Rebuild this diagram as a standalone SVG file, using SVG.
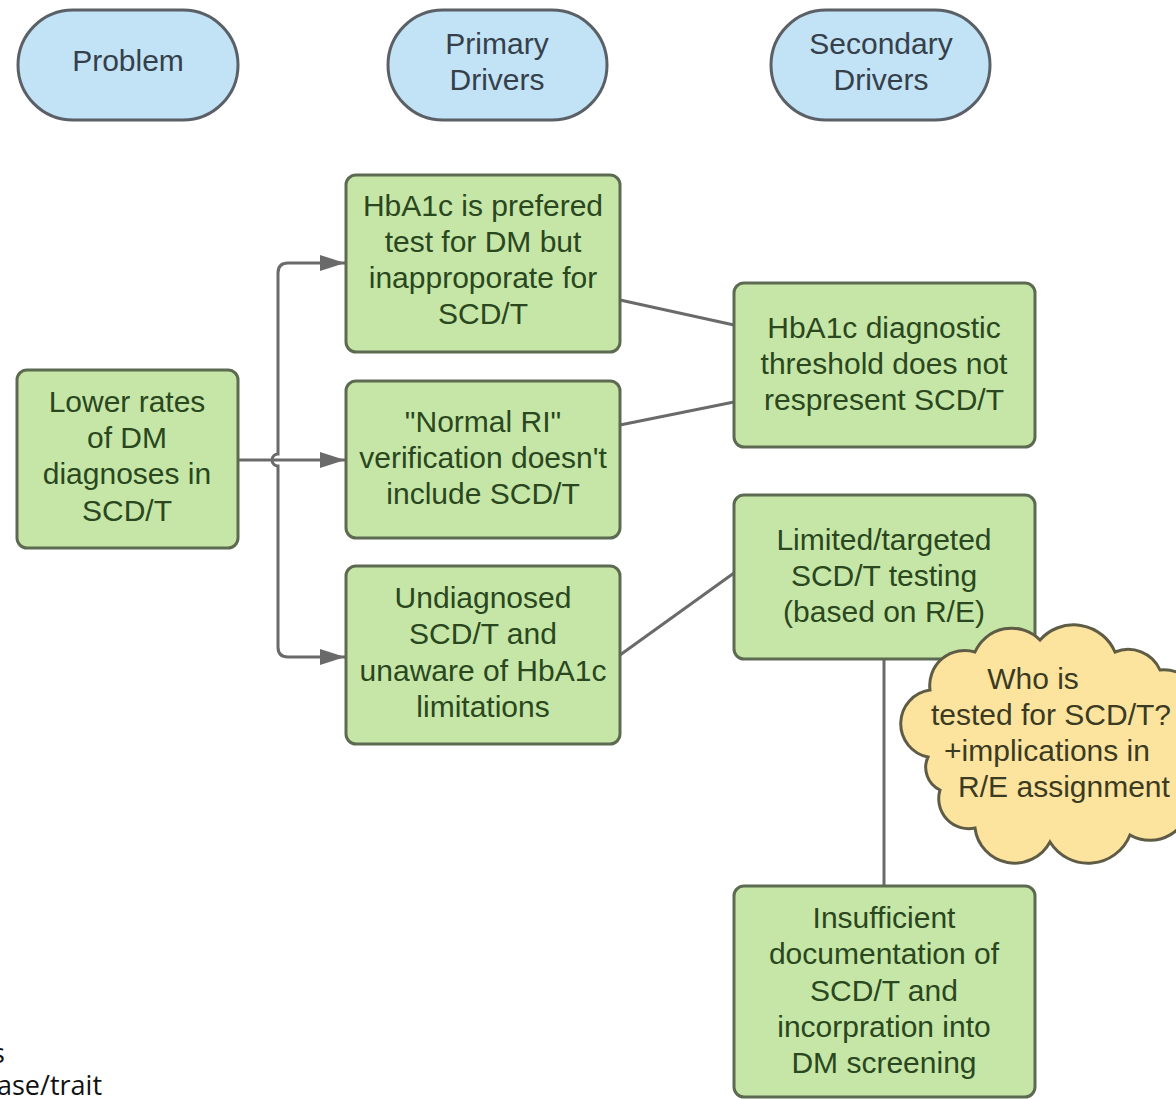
<svg xmlns="http://www.w3.org/2000/svg" width="1176" height="1099" viewBox="0 0 1176 1099">
<style>
.pill{fill:#c2e2f5;stroke:#5a6066;stroke-width:3}
.box{fill:#c5e6a6;stroke:#5c6a52;stroke-width:3}
.cloud{fill:#fde49e;stroke:#5f5c45;stroke-width:3}
.pt{font-family:"Liberation Sans",Arial,sans-serif;font-size:30px;fill:#35404a;text-anchor:middle}
.bt{font-family:"Liberation Sans",Arial,sans-serif;font-size:30px;fill:#2a4720;text-anchor:middle}
.ct{font-family:"Liberation Sans",Arial,sans-serif;font-size:30px;fill:#3b3a22;text-anchor:middle}
.conn{fill:none;stroke:#6a6a6a;stroke-width:3}
.note{font-family:"Open Sans","Liberation Sans",sans-serif;font-size:27px;fill:#111}
</style>
<defs>
<marker id="arr" viewBox="0 0 25 16" refX="25" refY="8" markerWidth="25" markerHeight="16" markerUnits="userSpaceOnUse" orient="auto-start-reverse">
<path d="M0,0 L25,8 L0,16 Z" fill="#6a6a6a"/>
</marker>
</defs>
<rect width="1176" height="1099" fill="#ffffff"/>

<g id="connectors">
<path class="conn" d="M238,460 H345" marker-end="url(#arr)"/>
<path class="conn" d="M345,263 H288 Q278,263 278,273 V454 A6,6 0 0 0 278,466 V647 Q278,657 288,657 H345" marker-start="url(#arr)" marker-end="url(#arr)"/>
<line class="conn" x1="620" y1="300" x2="734" y2="325"/>
<line class="conn" x1="620" y1="425" x2="734" y2="402"/>
<line class="conn" x1="620" y1="655" x2="734" y2="573"/>
<line class="conn" x1="884" y1="659" x2="884" y2="886"/>
</g>

<g id="hdr-problem">
<rect class="pill" x="18" y="10" width="220" height="110" rx="55"/>
<text class="pt" x="128" y="71">Problem</text>
</g>
<g id="hdr-primary">
<rect class="pill" x="388" y="10" width="219" height="110" rx="55"/>
<text class="pt" x="497" y="54">Primary</text>
<text class="pt" x="497" y="90">Drivers</text>
</g>
<g id="hdr-secondary">
<rect class="pill" x="771" y="10" width="219" height="110" rx="55"/>
<text class="pt" x="881" y="54">Secondary</text>
<text class="pt" x="881" y="90">Drivers</text>
</g>

<g id="problem">
<rect class="box" x="17" y="370" width="221" height="178" rx="10"/>
<text class="bt" x="127" y="412">Lower rates</text>
<text class="bt" x="127" y="448">of DM</text>
<text class="bt" x="127" y="484">diagnoses in</text>
<text class="bt" x="127" y="521">SCD/T</text>
</g>

<g id="pd1">
<rect class="box" x="346" y="175" width="274" height="177" rx="10"/>
<text class="bt" x="483" y="216">HbA1c is prefered</text>
<text class="bt" x="483" y="252">test for DM but</text>
<text class="bt" x="483" y="288">inapproporate for</text>
<text class="bt" x="483" y="324">SCD/T</text>
</g>

<g id="pd2">
<rect class="box" x="346" y="381" width="274" height="157" rx="10"/>
<text class="bt" x="483" y="432">"Normal RI"</text>
<text class="bt" x="483" y="468">verification doesn't</text>
<text class="bt" x="483" y="504">include SCD/T</text>
</g>

<g id="pd3">
<rect class="box" x="346" y="566" width="274" height="178" rx="10"/>
<text class="bt" x="483" y="608">Undiagnosed</text>
<text class="bt" x="483" y="644">SCD/T and</text>
<text class="bt" x="483" y="681">unaware of HbA1c</text>
<text class="bt" x="483" y="717">limitations</text>
</g>

<g id="sd1">
<rect class="box" x="734" y="283" width="301" height="164" rx="10"/>
<text class="bt" x="884" y="338">HbA1c diagnostic</text>
<text class="bt" x="884" y="374">threshold does not</text>
<text class="bt" x="884" y="410">respresent SCD/T</text>
</g>

<g id="sd2">
<rect class="box" x="734" y="495" width="301" height="164" rx="10"/>
<text class="bt" x="884" y="550">Limited/targeted</text>
<text class="bt" x="884" y="586">SCD/T testing</text>
<text class="bt" x="884" y="622">(based on R/E)</text>
</g>

<g id="sd3">
<rect class="box" x="734" y="886" width="301" height="211" rx="10"/>
<text class="bt" x="884" y="928">Insufficient</text>
<text class="bt" x="884" y="964">documentation of</text>
<text class="bt" x="884" y="1001">SCD/T and</text>
<text class="bt" x="884" y="1037">incorpration into</text>
<text class="bt" x="884" y="1073">DM screening</text>
</g>

<g id="cloud">
<path class="cloud" d="M930,690 A35,35 0 0 1 975,652 A40,40 0 0 1 1040,640 A45,45 0 0 1 1115,652 A35,35 0 0 1 1160,670 A40,40 0 0 1 1190,740 L1190,800 A40,40 0 0 1 1130,835 A45,45 0 0 1 1050,842 A40,40 0 0 1 975,828 A30,30 0 0 1 940,790 A25,25 0 0 1 928,757 A34,34 0 0 1 930,690 Z"/>
<text class="ct" x="1033" y="689">Who is</text>
<text class="ct" x="1051" y="725">tested for SCD/T?</text>
<text class="ct" x="1047" y="761">+implications in</text>
<text class="ct" x="1064" y="797">R/E assignment</text>
</g>

<g id="legend-fragment">
<text class="note" x="-8" y="1063">s</text>
<text class="note" x="-3" y="1095">ase/trait</text>
</g>
</svg>
